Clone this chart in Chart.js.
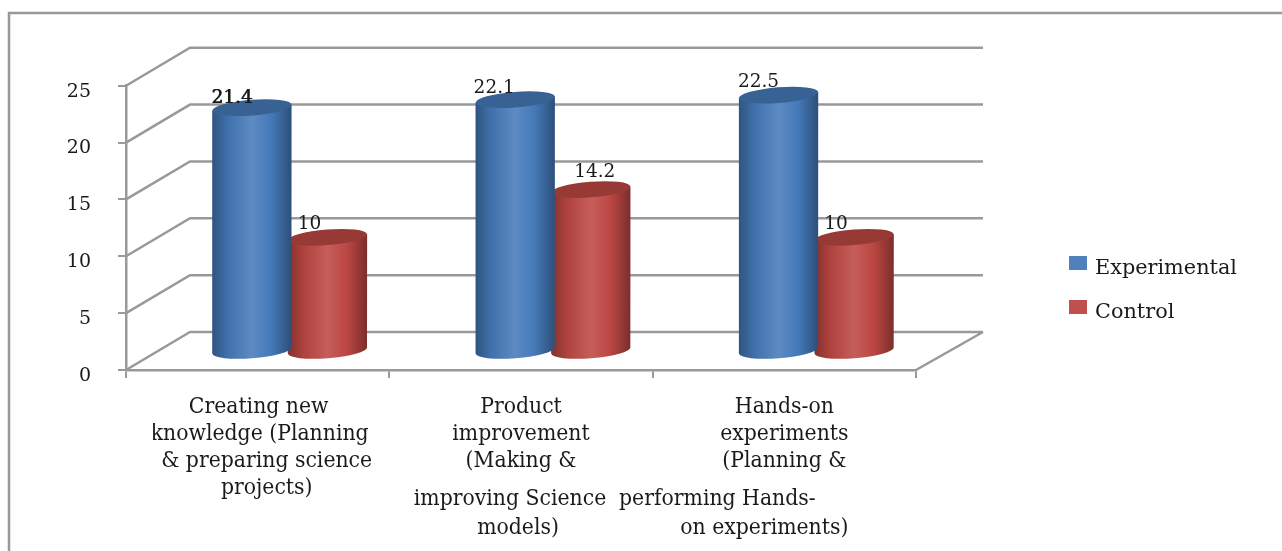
<!DOCTYPE html>
<html>
<head>
<meta charset="utf-8">
<title>Experimental vs Control</title>
<script src="https://cdn.jsdelivr.net/npm/chart.js@4/dist/chart.umd.min.js"></script>
<style>
  html, body { margin: 0; padding: 0; background: #fff; }
  canvas { display: block; }
</style>
</head>
<body>
<canvas id="chart" width="1282" height="551"></canvas>
<script>
const categoryLines = [
    ['Creating new', 'knowledge (Planning', '& preparing science', 'projects)'],
    ['Product', 'improvement', '(Making &', 'improving Science', 'models)'],
    ['Hands-on', 'experiments', '(Planning &', 'performing Hands-', 'on experiments)']
];
const experimental = [21.4, 22.1, 22.5];
const control = [10, 14.2, 10];
const yTicks = [0, 5, 10, 15, 20, 25];

const serif = '"DejaVu Serif", serif';
const condensed = '"DejaVu Serif Condensed", "DejaVu Serif", serif';
const gridColor = '#999999';
const inkColor = '#1a1a1a';

// depth of the floor and walls, and where a bar stands on the floor
const depth = { x: 64, y: -38, rightX: 67 };
const standOffset = { x: 32, y: -18.5 };

// line placement under each category: [dx from the tick centre, baseline y]
const catLayout = [
    [[1, 413], [2, 440], [9, 467], [9, 494]],
    [[0, 413], [0, 440], [0, 467], [-11, 505], [-3, 534]],
    [[0, 413], [0, 440], [0, 467], [-67, 505], [-20, 534]]
];
// value label nudges from the top of each bar
const labelNudge = [
    [[-20, -10], [-18, -14]],
    [[-21, -12], [4, -18]],
    [[-20, -13], [-18, -14]]
];

class CylinderBar extends Chart.BarElement {
    draw(ctx) {
        const { x, y, base, width } = this.getProps(['x', 'y', 'base', 'width']);
        const bg = this.options.backgroundColor;
        const color = Chart.helpers.color;
        const cx = x + standOffset.x;
        const top = y + standOffset.y - 0.5;
        const bottom = base + standOffset.y;
        const rx = width / 2;
        const ry = 7.8;
        const tilt = -0.078;
        const lift = Math.sin(tilt) * rx;

        const side = ctx.createLinearGradient(cx - rx, 0, cx + rx, 0);
        side.addColorStop(0, color(bg).darken(0.34).hexString());
        side.addColorStop(0.2, color(bg).darken(0.12).hexString());
        side.addColorStop(0.5, color(bg).lighten(0.07).hexString());
        side.addColorStop(0.74, color(bg).darken(0.05).hexString());
        side.addColorStop(1, color(bg).darken(0.38).hexString());

        ctx.save();
        ctx.fillStyle = side;
        ctx.beginPath();
        ctx.moveTo(cx - rx, top - lift);
        ctx.lineTo(cx - rx, bottom - lift);
        ctx.ellipse(cx, bottom, rx, ry, tilt, Math.PI, 0, true);
        ctx.lineTo(cx + rx, top + lift);
        ctx.closePath();
        ctx.fill();

        ctx.fillStyle = color(bg).darken(0.24).hexString();
        ctx.beginPath();
        ctx.ellipse(cx, top, rx, ry, tilt, 0, Math.PI * 2);
        ctx.fill();
        ctx.restore();
    }
}
CylinderBar.id = 'cylinderBar';

class CylinderController extends Chart.BarController {}
CylinderController.id = 'cylinder';
CylinderController.defaults = { dataElementType: 'cylinderBar' };

Chart.register(CylinderBar, CylinderController);

// outer frame, walls and floor, drawn behind the bars
const wallsPlugin = {
    id: 'walls',
    beforeDatasetsDraw(chart) {
        const ctx = chart.ctx;
        const area = chart.chartArea;
        const y = chart.scales.y;
        ctx.save();
        ctx.strokeStyle = gridColor;
        ctx.lineWidth = 2.5;
        ctx.beginPath();
        ctx.moveTo(9, 551);
        ctx.lineTo(9, 13);
        ctx.lineTo(1282, 13);
        ctx.stroke();
        ctx.beginPath();
        yTicks.forEach(v => {
            const py = y.getPixelForValue(v);
            ctx.moveTo(area.left, py);
            ctx.lineTo(area.left + depth.x, py + depth.y);
            ctx.lineTo(area.right + depth.rightX, py + depth.y);
        });
        ctx.moveTo(area.right, area.bottom);
        ctx.lineTo(area.right + depth.rightX, area.bottom + depth.y);
        ctx.stroke();
        ctx.restore();
    }
};

// bar values, category text and legend
const textPlugin = {
    id: 'chartText',
    afterDatasetsDraw(chart) {
        const ctx = chart.ctx;
        ctx.save();
        ctx.fillStyle = inkColor;

        ctx.font = '18.5px ' + serif;
        ctx.textAlign = 'center';
        ctx.textBaseline = 'middle';
        chart.data.datasets.forEach((ds, d) => {
            chart.getDatasetMeta(d).data.forEach((bar, i) => {
                const nudge = labelNudge[i][d];
                const lx = bar.x + standOffset.x + nudge[0];
                const ly = bar.y + standOffset.y + nudge[1];
                ctx.fillText(String(ds.data[i]), lx, ly);
                // first value reads heavier than the others
                if (i === 0 && d === 0) ctx.fillText(String(ds.data[i]), lx + 0.8, ly);
            });
        });

        ctx.font = '22.7px ' + condensed;
        ctx.textBaseline = 'alphabetic';
        const xScale = chart.scales.x;
        ctx.save();
        // the long first-category line is cut off on its left
        ctx.beginPath();
        ctx.rect(153, 385, 1129, 166);
        ctx.clip();
        categoryLines.forEach((lines, i) => {
            const cx = xScale.getPixelForValue(i);
            lines.forEach((line, l) => {
                ctx.fillText(line, cx + catLayout[i][l][0], catLayout[i][l][1]);
            });
        });
        ctx.restore();

        ctx.font = '20.8px ' + serif;
        ctx.textAlign = 'left';
        chart.data.datasets.forEach((ds, d) => {
            const ky = 256 + d * 44;
            ctx.fillStyle = ds.backgroundColor;
            ctx.fillRect(1069, ky, 18, 14);
            ctx.fillStyle = inkColor;
            ctx.fillText(ds.label, 1095, ky + 18);
        });
        ctx.restore();
    }
};

new Chart(document.getElementById('chart'), {
    type: 'cylinder',
    data: {
        labels: categoryLines.map(lines => lines.join(' ')),
        datasets: [
            { label: 'Experimental', data: experimental, backgroundColor: '#4f81bd', categoryPercentage: 0.574, barPercentage: 1.05 },
            { label: 'Control', data: control, backgroundColor: '#c0504d', categoryPercentage: 0.574, barPercentage: 1.05 }
        ]
    },
    plugins: [wallsPlugin, textPlugin],
    options: {
        responsive: false,
        animation: false,
        events: [],
        layout: { padding: { left: 0, top: 85.7, right: 366, bottom: 173 } },
        plugins: { legend: { display: false }, tooltip: { enabled: false } },
        scales: {
            x: {
                type: 'category',
                afterFit: s => { s.height = 8; },
                ticks: { display: false },
                border: { display: true, color: gridColor, width: 2.5 },
                grid: { drawOnChartArea: false, drawTicks: true, tickLength: 8, color: gridColor, lineWidth: 2, offset: true }
            },
            y: {
                min: 0,
                max: 25,
                afterFit: s => { s.width = 126; },
                afterBuildTicks: s => { s.ticks = yTicks.map(v => ({ value: v })); },
                ticks: { padding: 27, labelOffset: 6, color: inkColor, font: { family: serif, size: 19 } },
                border: { display: true, color: gridColor, width: 2.5 },
                grid: { drawOnChartArea: false, drawTicks: true, tickLength: 8, color: gridColor, lineWidth: 2 }
            }
        }
    }
});
</script>
</body>
</html>
